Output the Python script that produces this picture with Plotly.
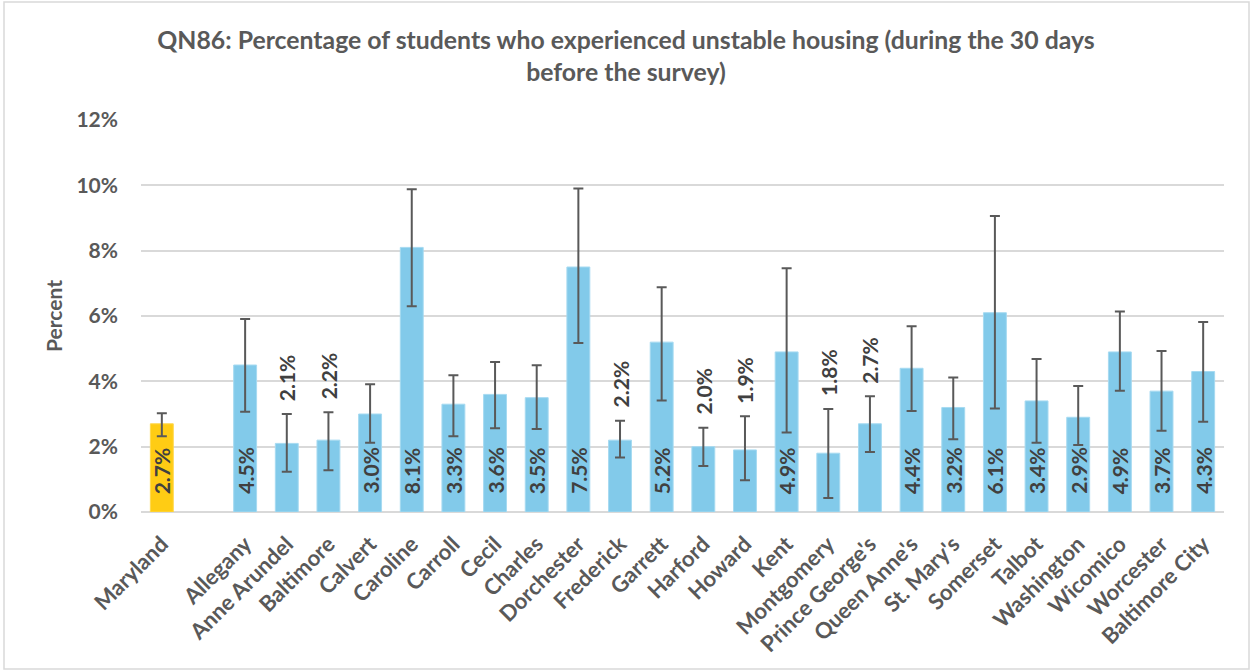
import plotly.graph_objects as go

# Jurisdictions (Maryland total first, then the counties)
state = "Maryland"
counties = [
    "Allegany", "Anne Arundel", "Baltimore", "Calvert", "Caroline", "Carroll",
    "Cecil", "Charles", "Dorchester", "Frederick", "Garrett", "Harford",
    "Howard", "Kent", "Montgomery", "Prince George's", "Queen Anne's",
    "St. Mary's", "Somerset", "Talbot", "Washington", "Wicomico",
    "Worcester", "Baltimore City",
]

# Percent of students, with 95% confidence limits
state_pct = 2.7
state_low = 2.32
state_high = 3.02

county_pct = [
    4.5, 2.1, 2.2, 3.0, 8.1, 3.3, 3.6, 3.5, 7.5, 2.2, 5.2, 2.0,
    1.9, 4.9, 1.8, 2.7, 4.4, 3.2, 6.1, 3.4, 2.9, 4.9, 3.7, 4.3,
]
county_low = [
    3.07, 1.23, 1.28, 2.12, 6.30, 2.32, 2.56, 2.54, 5.17, 1.67, 3.41, 1.41,
    0.97, 2.43, 0.43, 1.84, 3.09, 2.23, 3.17, 2.12, 2.05, 3.71, 2.49, 2.76,
]
county_high = [
    5.91, 3.00, 3.05, 3.91, 9.88, 4.19, 4.59, 4.49, 9.90, 2.79, 6.88, 2.58,
    2.93, 7.46, 3.15, 3.54, 5.69, 4.12, 9.06, 4.68, 3.86, 6.14, 4.93, 5.82,
]

# Short bars whose value label sits above the error bar
labels_above = {"Anne Arundel", "Baltimore", "Frederick", "Harford",
                "Howard", "Montgomery", "Prince George's"}

FONT = "Lato"
TEXT = "#595959"
LABEL = "#404040"

# x positions: state at 0, an empty slot, then counties
state_x = [0]
county_x = list(range(2, 2 + len(counties)))

fig = go.Figure()

fig.add_trace(go.Bar(
    x=state_x, y=[state_pct], width=0.55,
    marker=dict(color="#FFCC14", line=dict(color="#FFD84D", width=1)),
    error_y=dict(type="data", symmetric=False,
                 array=[state_high - state_pct],
                 arrayminus=[state_pct - state_low],
                 color=TEXT, thickness=2, width=5),
    showlegend=False, hoverinfo="skip",
))

fig.add_trace(go.Bar(
    x=county_x, y=county_pct, width=0.55,
    marker=dict(color="#82CAEA", line=dict(color="#A6DAF1", width=1)),
    error_y=dict(type="data", symmetric=False,
                 array=[h - p for h, p in zip(county_high, county_pct)],
                 arrayminus=[p - l for p, l in zip(county_pct, county_low)],
                 color=TEXT, thickness=2, width=5),
    showlegend=False, hoverinfo="skip",
))

# Value labels, rotated to read upward
annotations = []
names = [state] + counties
xs = state_x + county_x
pcts = [state_pct] + county_pct
highs = [state_high] + county_high
for name, x, p, hi in zip(names, xs, pcts, highs):
    if name in labels_above:
        y, shift = hi, 11
    else:
        y, shift = 0, 16
    annotations.append(dict(
        x=x, y=y, xref="x", yref="y", text=f"{p:.1f}%",
        textangle=-90, showarrow=False, xanchor="center", yanchor="bottom",
        yshift=shift, font=dict(family=FONT, size=21, color=LABEL, weight="bold"),
    ))

fig.update_layout(
    width=1252, height=671,
    margin=dict(l=141, r=28, t=120, b=159),
    paper_bgcolor="white", plot_bgcolor="white",
    title=dict(
        text="QN86: Percentage of students who experienced unstable housing (during the 30 days<br>before the survey)",
        x=0.5, xref="container", xanchor="center",
        y=0.927, yref="container", yanchor="top",
        font=dict(family=FONT, size=24.8, color=TEXT, weight="bold"),
    ),
    xaxis=dict(
        tickmode="array", tickvals=xs, ticktext=names, tickangle=-45,
        range=[-0.5, 25.5], showgrid=False, zeroline=False, showline=False,
        ticks="", ticklabelstandoff=14,
        tickfont=dict(family=FONT, size=22, color=TEXT, weight="bold"),
    ),
    yaxis=dict(
        range=[0, 12], dtick=2, ticksuffix="%", showgrid=True,
        gridcolor="#D9D9D9", gridwidth=1.5, zeroline=True, zerolinecolor="#D9D9D9",
        zerolinewidth=1.5, showline=False, ticks="", ticklabelstandoff=22,
        tickfont=dict(family=FONT, size=21, color=TEXT, weight="bold"),
        title=dict(text="Percent", standoff=8,
                   font=dict(family=FONT, size=21, color=TEXT, weight="bold")),
    ),
    annotations=annotations,
    shapes=[dict(
        type="rect", xref="paper", yref="paper",
        x0=(4 - 141) / 1083, x1=(1249 - 141) / 1083,
        y0=(512 - 669) / 392, y1=(512 - 2) / 392,
        line=dict(color="#D9D9D9", width=1.5), fillcolor="rgba(0,0,0,0)",
    )],
)

fig.write_html("out.html")
